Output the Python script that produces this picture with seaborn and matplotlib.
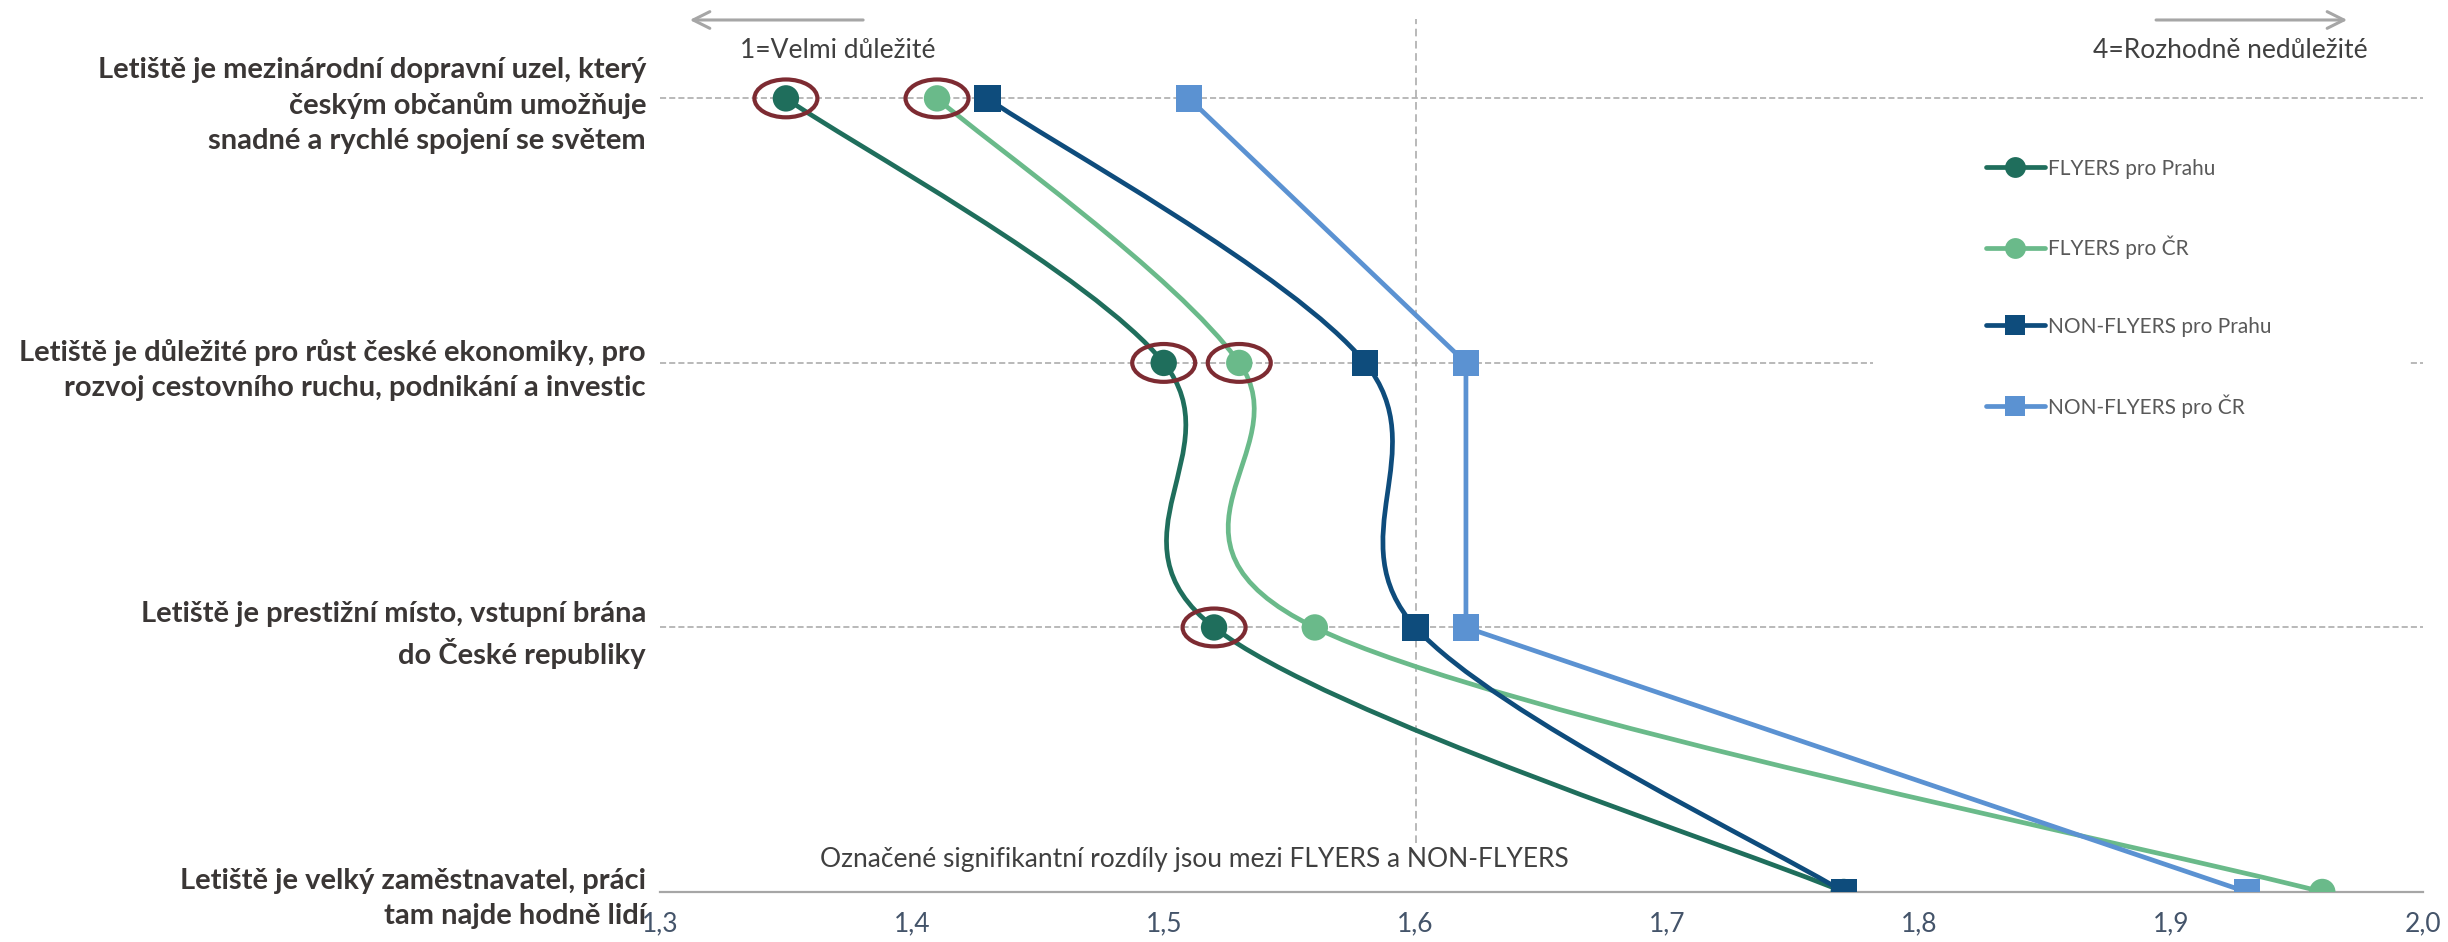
import numpy as np
import pandas as pd
import matplotlib
matplotlib.use("Agg")
import matplotlib.pyplot as plt
import seaborn as sns
from matplotlib.path import Path
from matplotlib.patches import PathPatch, Ellipse, Rectangle
from matplotlib.lines import Line2D

# ---------------- data ----------------
categories = [
    "Letiště je mezinárodní dopravní uzel, který\nčeským občanům umožňuje\nsnadné a rychlé spojení se světem",
    "Letiště je důležité pro růst české ekonomiky, pro\nrozvoj cestovního ruchu, podnikání a investic",
    "Letiště je prestižní místo, vstupní brána\ndo České republiky",
    "Letiště je velký zaměstnavatel, práci\ntam najde hodně lidí",
]
series_names = ["FLYERS pro Prahu", "FLYERS pro ČR", "NON-FLYERS pro Prahu", "NON-FLYERS pro ČR"]
flyers_praha = [1.35, 1.50, 1.52, 1.77]
flyers_cr = [1.41, 1.53, 1.56, 1.96]
nonflyers_praha = [1.43, 1.58, 1.60, 1.77]
nonflyers_cr = [1.51, 1.62, 1.62, 1.93]
x_ticks = [1.3, 1.4, 1.5, 1.6, 1.7, 1.8, 1.9, 2.0]
x_tick_labels = ["1,3", "1,4", "1,5", "1,6", "1,7", "1,8", "1,9", "2,0"]
significant = {"FLYERS pro Prahu": [0, 1, 2], "FLYERS pro ČR": [0, 1]}

# ---------------- style ----------------
colors = {"FLYERS pro Prahu": "#1f6e5c", "FLYERS pro ČR": "#6aba8a",
          "NON-FLYERS pro Prahu": "#0e4c7c", "NON-FLYERS pro ČR": "#5b92d2"}
markers = {"FLYERS pro Prahu": "o", "FLYERS pro ČR": "o",
           "NON-FLYERS pro Prahu": "s", "NON-FLYERS pro ČR": "s"}
smoothed = {"FLYERS pro Prahu": True, "FLYERS pro ČR": True,
            "NON-FLYERS pro Prahu": True, "NON-FLYERS pro ČR": False}
ring_color = "#7d2b32"
grid_color = "#a6a6a6"
LW = 3.4

sns.set_theme(style="white")
plt.rcParams["font.family"] = ["Lato", "DejaVu Sans"]

values = [flyers_praha, flyers_cr, nonflyers_praha, nonflyers_cr]
rows = []
for name, vals in zip(series_names, values):
    for i, v in enumerate(vals):
        rows.append({"series": name, "pos": i, "category": categories[i], "value": v})
df = pd.DataFrame(rows)

fig = plt.figure(figsize=(24.48, 9.42), dpi=100)
ax = fig.add_axes([0.2696, 0.0531, 0.7202, 0.9267])


def smooth_path(xs, ys):
    P = np.column_stack([xs, ys]).astype(float)
    n = len(P)
    verts = [P[0]]
    codes = [Path.MOVETO]
    for i in range(n - 1):
        p0 = P[i - 1] if i > 0 else P[i]
        p1 = P[i]
        p2 = P[i + 1]
        p3 = P[i + 2] if i + 2 < n else P[i + 1]
        c1 = p1 + (p2 - p0) / 6.0
        c2 = p2 - (p3 - p1) / 6.0
        verts += [c1, c2, p2]
        codes += [Path.CURVE4] * 3
    return Path(verts, codes)


# lines
for name in series_names:
    sub = df[df["series"] == name]
    if smoothed[name]:
        patch = PathPatch(smooth_path(sub["value"].values, sub["pos"].values),
                          facecolor="none", edgecolor=colors[name], lw=LW,
                          zorder=2, capstyle="round")
        ax.add_patch(patch)
    else:
        sns.lineplot(data=sub, x="value", y="pos", sort=False, estimator=None,
                     color=colors[name], lw=LW, ax=ax, zorder=2, legend=False)

# markers
sns.scatterplot(data=df, x="value", y="pos", hue="series", style="series",
                palette=colors, markers=markers, s=19 ** 2, linewidth=0,
                ax=ax, zorder=3, legend=False)

# significance rings
for name, idxs in significant.items():
    sub = df[df["series"] == name].set_index("pos")
    for i in idxs:
        ax.add_patch(Ellipse((sub.loc[i, "value"], i), width=0.025, height=0.143,
                             facecolor="none", edgecolor=ring_color, lw=3.0, zorder=4))

# axes
ax.set_xlim(1.3, 2.0)
ax.set_ylim(3, -0.3)
ax.set_xticks(x_ticks)
ax.set_xticklabels(x_tick_labels)
ax.set_yticks(range(len(categories)))
ax.set_yticklabels(categories, fontweight="bold", fontsize=21, color="#3a3635",
                   linespacing=1.42)
ax.set_xlabel("")
ax.set_ylabel("")
ax.tick_params(axis="x", colors=grid_color, labelcolor="#44546a", labelsize=19,
               direction="inout", length=12, width=1, pad=8)
ax.tick_params(axis="y", length=0, pad=10)
for s in ["top", "right", "left"]:
    ax.spines[s].set_visible(False)
ax.spines["bottom"].set_color(grid_color)
ax.spines["bottom"].set_linewidth(1.6)
ax.set_axisbelow(True)
ax.grid(axis="y", color=grid_color, lw=1.1, ls=(0, (4, 2)))
ax.grid(axis="x", visible=False)
ax.axvline(1.6, ymin=0.056, ymax=1, color=grid_color, lw=1.1, ls=(0, (5, 3)), zorder=0.6)

# white backdrop for legend area
ax.add_patch(Rectangle((0.688, 0.506), 0.3046, 0.367, transform=ax.transAxes,
                       facecolor="white", edgecolor="none", zorder=1))

# legend
handles = [Line2D([], [], color=colors[n], lw=LW, marker=markers[n], markersize=15,
                  markeredgewidth=0) for n in series_names]
leg = ax.legend(handles, series_names, loc="upper left", bbox_to_anchor=(0.752, 0.84),
                frameon=False, fontsize=15, handlelength=2.85, handletextpad=0.15,
                labelspacing=2.75, borderpad=0, borderaxespad=0)
for t in leg.get_texts():
    t.set_color("#595959")
leg.set_zorder(5)

# annotations
ax.annotate("", xy=(0.0153, 0.9989), xytext=(0.1168, 0.9989), xycoords="axes fraction",
            arrowprops=dict(arrowstyle="->,head_length=1.0,head_width=0.5", color="#a6a6a6", lw=2.2),
            annotation_clip=False)
ax.annotate("", xy=(0.9586, 0.9989), xytext=(0.847, 0.9989), xycoords="axes fraction",
            arrowprops=dict(arrowstyle="->,head_length=1.0,head_width=0.5", color="#a6a6a6", lw=2.2),
            annotation_clip=False)
ax.text(0.0454, 0.9645, "1=Velmi důležité", transform=ax.transAxes, ha="left", va="center",
        fontsize=19, color="#404040")
ax.text(0.9688, 0.9645, "4=Rozhodně nedůležité", transform=ax.transAxes, ha="right", va="center",
        fontsize=19, color="#404040")
ax.text(0.0908, 0.0367, "Označené signifikantní rozdíly jsou mezi FLYERS a NON-FLYERS",
        transform=ax.transAxes, ha="left", va="center", fontsize=19, color="#404040",
        zorder=3, bbox=dict(facecolor="white", edgecolor="none", pad=2))

fig.savefig("out.png", dpi=100)
